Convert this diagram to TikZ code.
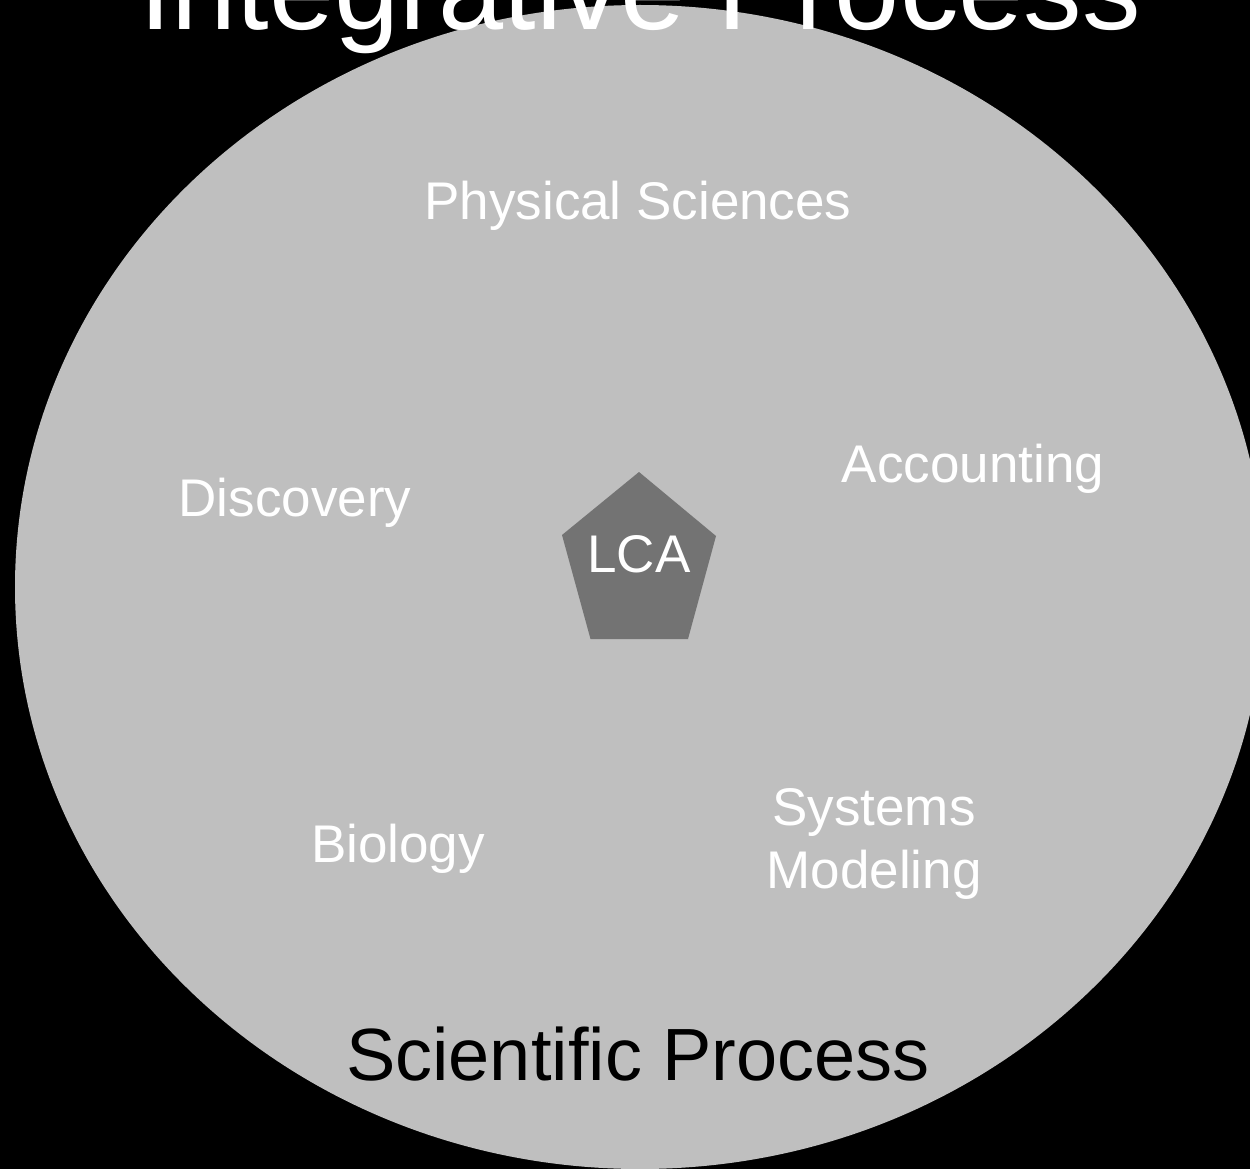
\documentclass[tikz,border=0pt]{standalone}
\usepackage{fontspec}
\setmainfont{Liberation Sans}
\definecolor{circlegray}{HTML}{BFBFBF}
\definecolor{pentgray}{HTML}{737373}
\tikzset{
  lbl/.style={text=white, anchor=base, inner sep=0pt, font=\fontsize{53}{63}\selectfont},
  bigw/.style={text=white, anchor=base, inner sep=0pt, font=\fontsize{117}{130}\selectfont},
  bigk/.style={text=black, anchor=base, inner sep=0pt, font=\fontsize{74}{85}\selectfont},
}
\begin{document}
\begin{tikzpicture}[x=1pt,y=-1pt]
\fill[black] (0,0) rectangle (1250,1169);
\useasboundingbox (0,0) rectangle (1250,1169);
\fill[circlegray] (640,587) ellipse [x radius=625, y radius=582];
\fill[pentgray] (639,472) -- (716,536) -- (688,639) -- (590.5,639) -- (562,535) -- cycle;
\node[bigw] (title) at (640,30) {Integrative Process};
\node[lbl] (phys) at (638,219) {Physical Sciences};
\node[lbl] (disc) at (295,516) {Discovery};
\node[lbl] (acc) at (973,482) {Accounting};
\node[lbl] (lca) at (639,572) {LCA};
\node[lbl] (bio) at (398,862) {Biology};
\node[lbl] (sys) at (874,825) {Systems};
\node[lbl] (mod) at (874,888) {Modeling};
\node[bigk] (sci) at (638,1080) {Scientific Process};
\end{tikzpicture}
\end{document}
